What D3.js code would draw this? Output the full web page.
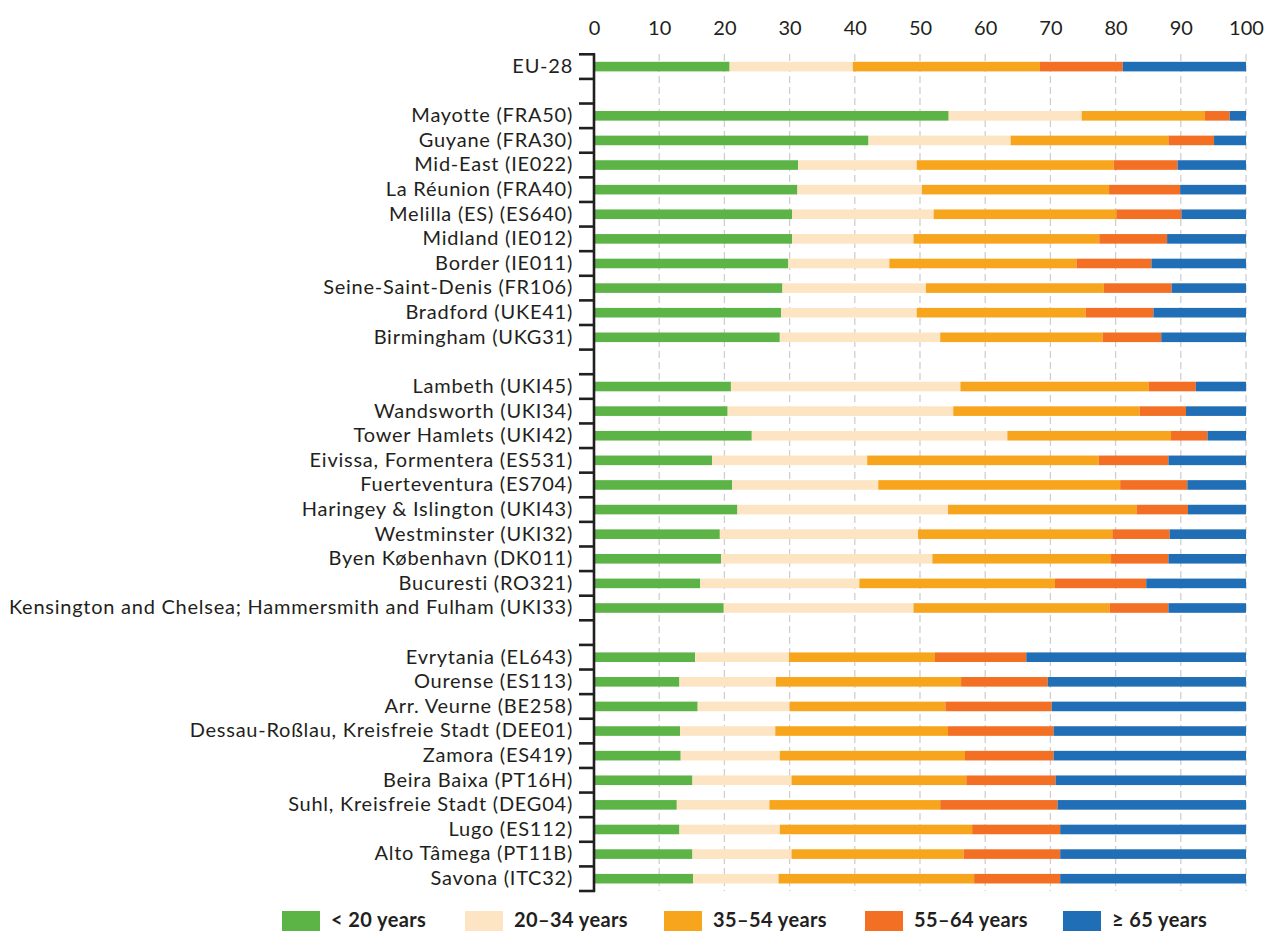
<!DOCTYPE html>
<html>
<head>
<meta charset="utf-8">
<script src="https://cdn.jsdelivr.net/npm/d3@7"></script>
<style>
  html, body { margin: 0; padding: 0; background: #fff; }
  svg { display: block; font-family: Lato, "Open Sans", sans-serif; }
</style>
</head>
<body>
<svg id="chart" width="1265" height="932"></svg>
<script>
// ---- Data ----
const categories = [
  "EU-28", "", 
  "Mayotte (FRA50)", "Guyane (FRA30)", "Mid-East (IE022)", "La Réunion (FRA40)", "Melilla (ES) (ES640)",
  "Midland (IE012)", "Border (IE011)", "Seine-Saint-Denis (FR106)", "Bradford (UKE41)", "Birmingham (UKG31)",
  "",
  "Lambeth (UKI45)", "Wandsworth (UKI34)", "Tower Hamlets (UKI42)", "Eivissa, Formentera (ES531)",
  "Fuerteventura (ES704)", "Haringey & Islington (UKI43)", "Westminster (UKI32)", "Byen København (DK011)",
  "Bucuresti (RO321)", "Kensington and Chelsea; Hammersmith and Fulham (UKI33)",
  "",
  "Evrytania (EL643)", "Ourense (ES113)", "Arr. Veurne (BE258)", "Dessau-Roßlau, Kreisfreie Stadt (DEE01)",
  "Zamora (ES419)", "Beira Baixa (PT16H)", "Suhl, Kreisfreie Stadt (DEG04)", "Lugo (ES112)",
  "Alto Tâmega (PT11B)", "Savona (ITC32)"
];

const seriesNames = ["< 20 years", "20–34 years", "35–54 years", "55–64 years", "≥ 65 years"];
const seriesColors = ["#5cb346", "#fde4c3", "#f8a51e", "#f26f23", "#1f6eb6"];

// shares (%) per series, aligned with categories (null for blank separator rows)
const under20 = [20.8, null, 54.4, 42.1, 31.3, 31.2, 30.4, 30.4, 29.8, 28.9, 28.7, 28.5, null,
  21.0, 20.5, 24.2, 18.1, 21.2, 22.0, 19.3, 19.5, 16.3, 19.9, null,
  15.5, 13.1, 15.9, 13.2, 13.3, 15.1, 12.7, 13.1, 15.1, 15.2];
const age20to34 = [18.9, null, 20.4, 21.8, 18.2, 19.1, 21.7, 18.6, 15.5, 22.0, 20.8, 24.6, null,
  35.2, 34.6, 39.2, 23.8, 22.4, 32.3, 30.4, 32.4, 24.4, 29.1, null,
  14.4, 14.8, 14.1, 14.6, 15.2, 15.2, 14.2, 15.4, 15.2, 13.1];
const age35to54 = [28.7, null, 18.9, 24.2, 30.2, 28.7, 28.0, 28.5, 28.7, 27.3, 25.9, 24.9, null,
  28.9, 28.6, 25.1, 35.5, 37.1, 28.9, 29.8, 27.4, 30.0, 30.1, null,
  22.4, 28.4, 23.9, 26.5, 28.4, 26.8, 26.2, 29.5, 26.4, 30.0];
const age55to64 = [12.7, null, 3.8, 7.0, 9.8, 10.9, 10.0, 10.4, 11.5, 10.4, 10.4, 9.0, null,
  7.2, 7.1, 5.6, 10.7, 10.3, 7.9, 8.8, 8.8, 14.0, 9.0, null,
  14.0, 13.3, 16.3, 16.2, 13.6, 13.7, 18.0, 13.5, 14.8, 13.2];
const age65plus = [18.9, null, 2.5, 4.9, 10.5, 10.1, 9.9, 12.1, 14.5, 11.4, 14.2, 13.0, null,
  7.7, 9.2, 5.9, 11.9, 9.0, 8.9, 11.7, 11.9, 15.3, 11.9, null,
  33.7, 30.4, 29.8, 29.5, 29.5, 29.2, 28.9, 28.5, 28.5, 28.5];

const xTicks = [0, 10, 20, 30, 40, 50, 60, 70, 80, 90, 100];

// ---- Build table ----
const seriesValues = [under20, age20to34, age35to54, age55to64, age65plus];
const keys = ["s0", "s1", "s2", "s3", "s4"];
const rows = categories.map((c, i) => {
  const r = { id: "r" + i, label: c, blank: under20[i] == null };
  keys.forEach((k, j) => r[k] = seriesValues[j][i] == null ? 0 : seriesValues[j][i]);
  return r;
});
const stacked = d3.stack().keys(keys)(rows);

// ---- Layout ----
const svg = d3.select("#chart");
const ink = "#231f20";
const font = "Lato, 'Open Sans', sans-serif";
const x = d3.scaleLinear().domain([0, 100]).range([594, 1246]);
const y = d3.scaleBand().domain(rows.map(r => r.id)).range([54.3, 891]).paddingInner(0).paddingOuter(0);
const bw = y.bandwidth();
const barH = bw * 0.39;

// gridlines
svg.append("g").selectAll("line").data(xTicks.filter(t => t > 0)).join("line")
  .attr("x1", d => x(d)).attr("x2", d => x(d))
  .attr("y1", 54).attr("y2", 891)
  .attr("stroke", "#cfcfcf").attr("stroke-width", 1.3)
  .attr("stroke-dasharray", "7,4");

// bars
svg.append("g").selectAll("g").data(stacked).join("g")
  .attr("fill", (d, i) => seriesColors[i])
  .selectAll("rect").data(d => d.filter(s => !s.data.blank)).join("rect")
  .attr("x", d => x(d[0]))
  .attr("width", d => x(d[1]) - x(d[0]))
  .attr("y", d => y(d.data.id) + (bw - barH) / 2)
  .attr("height", barH);

// top axis
const xAxis = svg.append("g").attr("transform", "translate(0,35)")
  .call(d3.axisTop(x).tickValues(xTicks).tickSize(0).tickPadding(0));
xAxis.select(".domain").remove();
xAxis.selectAll("text").attr("font-size", 20).attr("fill", ink)
  .attr("font-family", font);

// left axis labels
const yAxis = svg.append("g").attr("transform", "translate(578,0)")
  .call(d3.axisLeft(y).tickSize(0).tickPadding(5).tickFormat(id => rows.find(r => r.id === id).label));
yAxis.select(".domain").remove();
yAxis.selectAll("text").attr("font-size", 20).attr("fill", ink)
  .attr("letter-spacing", 0.75)
  .attr("font-family", font);

// axis line and boundary ticks
const boundaries = rows.map(r => y(r.id)).concat([y(rows[rows.length - 1].id) + bw]);
svg.append("line").attr("x1", 594).attr("x2", 594)
  .attr("y1", boundaries[0] - 1).attr("y2", boundaries[boundaries.length - 1] + 1)
  .attr("stroke", ink).attr("stroke-width", 2.6);
svg.append("g").selectAll("line").data(boundaries).join("line")
  .attr("x1", 579).attr("x2", 595)
  .attr("y1", d => d).attr("y2", d => d)
  .attr("stroke", ink).attr("stroke-width", 2.6);

// legend
const legendX = [282, 465, 664, 865, 1063];
const lg = svg.append("g");
seriesNames.forEach((n, i) => {
  lg.append("rect").attr("x", legendX[i]).attr("y", 911).attr("width", 38).attr("height", 20)
    .attr("fill", seriesColors[i]);
  lg.append("text").attr("x", legendX[i] + 49).attr("y", 922)
    .attr("dominant-baseline", "middle")
    .attr("font-size", 20).attr("font-weight", "bold").attr("fill", ink)
    .attr("letter-spacing", 0.4)
    .attr("font-family", font)
    .text(n);
});
</script>
</body>
</html>
